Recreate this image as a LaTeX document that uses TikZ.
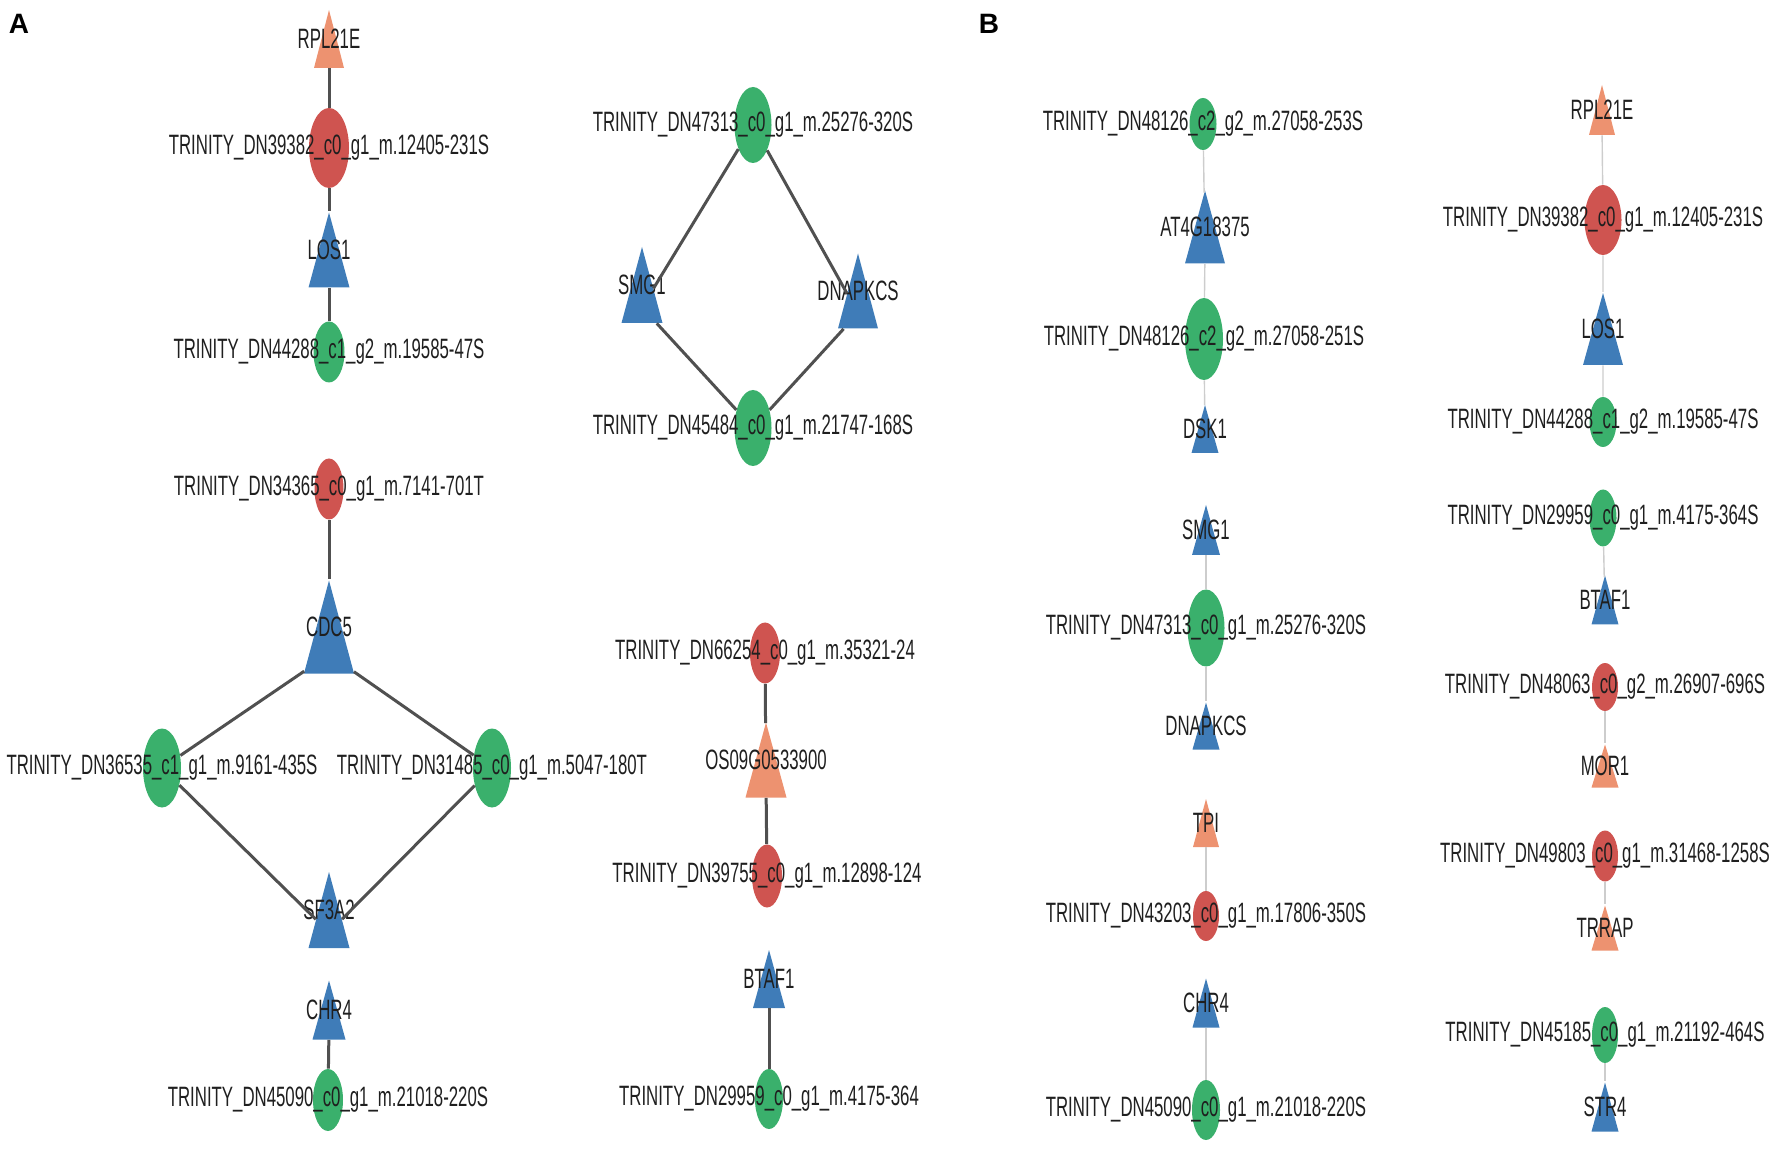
\documentclass[tikz,border=0pt]{standalone}
\usepackage{fontspec}
\setmainfont{Liberation Sans}
\newfontfamily\narrowfont[FakeStretch=0.6]{Liberation Sans}
\usepackage{tikz}
\usetikzlibrary{shapes.geometric}

\definecolor{ngreen}{RGB}{58,176,108}
\definecolor{nred}{RGB}{207,84,80}
\definecolor{nblue}{RGB}{63,124,184}
\definecolor{norange}{RGB}{237,146,112}
\definecolor{edgeA}{RGB}{80,80,80}
\definecolor{edgeB}{RGB}{205,205,205}

\tikzset{
  trans/.style={ellipse, inner sep=0pt, draw=none},
  gtrans/.style={trans, fill=ngreen},
  rtrans/.style={trans, fill=nred},
  targ/.style={isosceles triangle, isosceles triangle stretches, shape border rotate=90, inner sep=0pt, draw=none},
  btri/.style={targ, fill=nblue},
  otri/.style={targ, fill=norange},
  lbl/.style={font=\narrowfont\fontsize{14}{16}\selectfont, inner sep=0pt, text=black!88},
  % ellipse: width, height (px), text
  esz/.style n args={3}{minimum width=#1*0.5pt, minimum height=#2*0.5pt,
    label={[lbl]center:#3}},
  % triangle: base, height (px), text; box centre on the coordinate
  tsz/.style n args={3}{minimum width=#1*0.5pt, minimum height=#2*0.5pt,
    /utils/exec={\pgfmathsetmacro\toff{(#2/2-#1*#2/(#1+10*sqrt((#1/10)^2+4*(#2/10)^2)))*0.5}\global\let\toff\toff},
    yshift=-\toff pt, label={[lbl, yshift=\toff pt]center:#3}},
  ea/.style={draw=edgeA, line width=1.5pt},
  eb/.style={draw=edgeB, line width=0.7pt},
  panel/.style={font=\bfseries\fontsize{14}{16}\selectfont, inner sep=0pt}
}

\begin{document}
\begin{tikzpicture}[x=0.5pt, y=-0.5pt]
  \useasboundingbox (0,0) rectangle (1772,1149);

    % Panel A
    \node[panel] (pA) at (19,24) {A};

    % Define nodes
    \node[otri, tsz={30}{58}{RPL21E}] (aRPL) at (329,39) {};
    \node[rtrans, esz={40}{80}{TRINITY\_DN39382\_c0\_g1\_m.12405-231S}] (a39382) at (329,148) {};
    \node[btri, tsz={41}{75}{LOS1}] (aLOS) at (329,250) {};
    \node[gtrans, esz={31}{61}{TRINITY\_DN44288\_c1\_g2\_m.19585-47S}] (a44288) at (329,352) {};

    \node[rtrans, esz={29}{61}{TRINITY\_DN34365\_c0\_g1\_m.7141-701T}] (a34365) at (329,489) {};
    \node[btri, tsz={50}{93}{CDC5}] (aCDC) at (329,627) {};
    \node[gtrans, esz={38}{79}{TRINITY\_DN36535\_c1\_g1\_m.9161-435S}] (a36535) at (162,768) {};
    \node[gtrans, esz={38}{79}{TRINITY\_DN31485\_c0\_g1\_m.5047-180T}] (a31485) at (492,768) {};
    \node[btri, tsz={41}{76}{SF3A2}] (aSF) at (329,910) {};

    \node[btri, tsz={33}{59}{CHR4}] (aCHR) at (329,1010) {};
    \node[gtrans, esz={30}{62}{TRINITY\_DN45090\_c0\_g1\_m.21018-220S}] (a45090) at (328,1100) {};

    \node[gtrans, esz={37}{76}{TRINITY\_DN47313\_c0\_g1\_m.25276-320S}] (a47313) at (753,125) {};
    \node[btri, tsz={41}{76}{SMG1}] (aSMG) at (642,285) {};
    \node[btri, tsz={40}{75}{DNAPKCS}] (aDNAP) at (858,291) {};
    \node[gtrans, esz={37}{76}{TRINITY\_DN45484\_c0\_g1\_m.21747-168S}] (a45484) at (753,428) {};

    \node[rtrans, esz={30}{61}{TRINITY\_DN66254\_c0\_g1\_m.35321-24}] (a66254) at (765,653) {};
    \node[otri, tsz={41}{75}{OS09G0533900}] (aOS) at (766,760) {};
    \node[rtrans, esz={30}{63}{TRINITY\_DN39755\_c0\_g1\_m.12898-124}] (a39755) at (767,876) {};
    \node[btri, tsz={32}{58}{BTAF1}] (aBTAF) at (769,979) {};
    \node[gtrans, esz={28}{60}{TRINITY\_DN29959\_c0\_g1\_m.4175-364}] (a29959) at (769,1099) {};

    % Connect the nodes
    \draw[ea] (aRPL) -- (a39382) -- (aLOS) -- (a44288);
    \draw[ea] (a34365) -- (aCDC);
    \draw[ea] (aCDC) -- (a36535) -- (aSF) -- (a31485) -- (aCDC);
    \draw[ea] (aCHR) -- (a45090);
    \draw[ea] (a47313) -- (aSMG) -- (a45484) -- (aDNAP) -- (a47313);
    \draw[ea] (a66254) -- (aOS) -- (a39755);
    \draw[ea] (aBTAF) -- (a29959);

    % Panel B
    \node[panel] (pB) at (989,24) {B};

    % Define nodes
    \node[gtrans, esz={27}{52}{TRINITY\_DN48126\_c2\_g2\_m.27058-253S}] (b253) at (1203,124) {};
    \node[btri, tsz={40}{73}{AT4G18375}] (bAT4) at (1205,227) {};
    \node[gtrans, esz={38}{82}{TRINITY\_DN48126\_c2\_g2\_m.27058-251S}] (b251) at (1204,339) {};
    \node[btri, tsz={27}{48}{DSK1}] (bDSK) at (1205,429) {};
    \node[btri, tsz={28}{50}{SMG1}] (bSMG) at (1206,530) {};
    \node[gtrans, esz={37}{77}{TRINITY\_DN47313\_c0\_g1\_m.25276-320S}] (b47313) at (1206,628) {};
    \node[btri, tsz={27}{47}{DNAPKCS}] (bDNAP) at (1206,726) {};
    \node[otri, tsz={26}{48}{TPI}] (bTPI) at (1206,823) {};
    \node[rtrans, esz={26}{50}{TRINITY\_DN43203\_c0\_g1\_m.17806-350S}] (b43203) at (1206,916) {};
    \node[btri, tsz={27}{49}{CHR4}] (bCHR) at (1206,1003) {};
    \node[gtrans, esz={28}{60}{TRINITY\_DN45090\_c0\_g1\_m.21018-220S}] (b45090) at (1206,1110) {};

    \node[otri, tsz={26}{50}{RPL21E}] (bRPL) at (1602,110) {};
    \node[rtrans, esz={37}{70}{TRINITY\_DN39382\_c0\_g1\_m.12405-231S}] (b39382) at (1603,220) {};
    \node[btri, tsz={40}{72}{LOS1}] (bLOS) at (1603,329) {};
    \node[gtrans, esz={27}{50}{TRINITY\_DN44288\_c1\_g2\_m.19585-47S}] (b44288) at (1603,422) {};
    \node[gtrans, esz={27}{57}{TRINITY\_DN29959\_c0\_g1\_m.4175-364S}] (b29959) at (1603,518) {};
    \node[btri, tsz={27}{49}{BTAF1}] (bBTAF) at (1605,600) {};
    \node[rtrans, esz={26}{48}{TRINITY\_DN48063\_c0\_g2\_m.26907-696S}] (b48063) at (1605,687) {};
    \node[otri, tsz={27}{43}{MOR1}] (bMOR) at (1605,766) {};
    \node[rtrans, esz={26}{51}{TRINITY\_DN49803\_c0\_g1\_m.31468-1258S}] (b49803) at (1605,856) {};
    \node[otri, tsz={27}{45}{TRRAP}] (bTRRAP) at (1605,928) {};
    \node[gtrans, esz={26}{56}{TRINITY\_DN45185\_c0\_g1\_m.21192-464S}] (b45185) at (1605,1035) {};
    \node[btri, tsz={27}{49}{STR4}] (bSTR) at (1605,1107) {};

    % Connect the nodes
    \draw[eb] (b253) -- (bAT4) -- (b251) -- (bDSK);
    \draw[eb] (bSMG) -- (b47313) -- (bDNAP);
    \draw[eb] (bTPI) -- (b43203);
    \draw[eb] (bCHR) -- (b45090);
    \draw[eb] (bRPL) -- (b39382) -- (bLOS) -- (b44288);
    \draw[eb] (b29959) -- (bBTAF);
    \draw[eb] (b48063) -- (bMOR);
    \draw[eb] (b49803) -- (bTRRAP);
    \draw[eb] (b45185) -- (bSTR);
\end{tikzpicture}
\end{document}
